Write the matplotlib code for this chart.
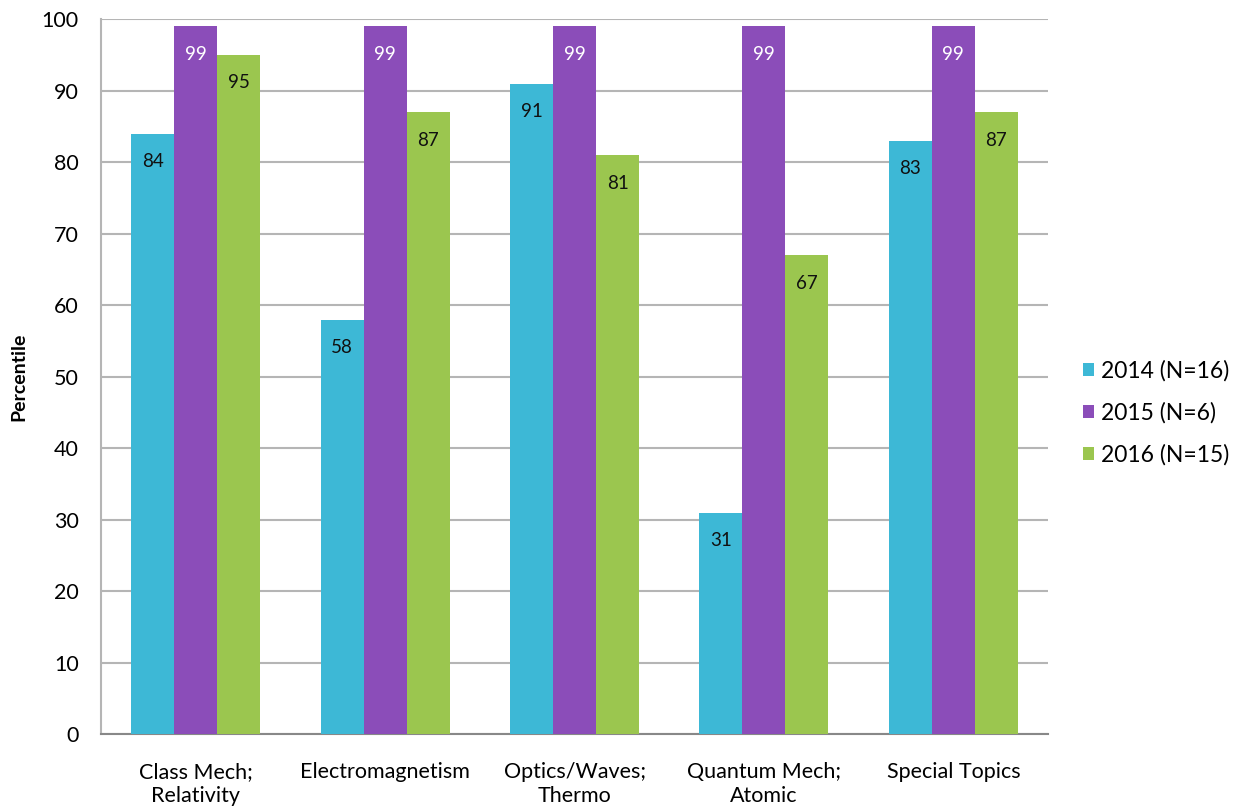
import numpy as np
import matplotlib
matplotlib.use("Agg")
import matplotlib.pyplot as plt

plt.rcParams['font.family'] = ['Lato', 'DejaVu Sans']

categories = ["Class Mech;\nRelativity", "Electromagnetism", "Optics/Waves;\nThermo",
              "Quantum Mech;\nAtomic", "Special Topics"]
series_names = ["2014 (N=16)", "2015 (N=6)", "2016 (N=15)"]
values_2014 = [84, 58, 91, 31, 83]
values_2015 = [99, 99, 99, 99, 99]
values_2016 = [95, 87, 81, 67, 87]

colors = ["#3db8d6", "#8b4db9", "#9bc64f"]
label_colors = ["#111111", "white", "#111111"]

fig = plt.figure(figsize=(12.33, 8.06), dpi=100)
ax = fig.add_axes([0.082, 0.089, 0.768, 0.887])

x = np.arange(len(categories))
w = 0.227
all_series = [values_2014, values_2015, values_2016]
for i, vals in enumerate(all_series):
    bars = ax.bar(x + (i - 1) * w, vals, w, color=colors[i], label=series_names[i], zorder=3)
    for b, v in zip(bars, vals):
        ax.text(b.get_x() + b.get_width() / 2, v - 3.9, str(v), ha='center', va='center',
                fontsize=13.5, color=label_colors[i], zorder=4)

ax.set_xlim(-0.5, len(categories) - 0.5)
ax.set_ylim(0, 100)
ax.set_yticks(range(0, 101, 10))
ax.set_xticks(x)
ax.set_xticklabels(categories, fontsize=15.5, linespacing=1.25)
ax.tick_params(axis='y', labelsize=15.5, length=0, pad=16)
ax.tick_params(axis='x', length=0, pad=20)
ax.yaxis.grid(True, color='#b5b5b5', linewidth=1.5, zorder=0)
ax.set_axisbelow(True)
for s in ['top', 'right']:
    ax.spines[s].set_visible(False)
ax.spines['left'].set_color('#b5b5b5')
ax.spines['left'].set_linewidth(1.5)
ax.spines['bottom'].set_color('#888888')
ax.spines['bottom'].set_linewidth(1.5)
ax.set_ylabel("Percentile", fontsize=14, fontweight='bold', labelpad=10)

leg = ax.legend(loc='center left', bbox_to_anchor=(1.015, 0.45), frameon=False,
                fontsize=16.5, handlelength=0.5, handleheight=0.5, handletextpad=0.3,
                labelspacing=0.9)

fig.savefig("out.png", dpi=100)
